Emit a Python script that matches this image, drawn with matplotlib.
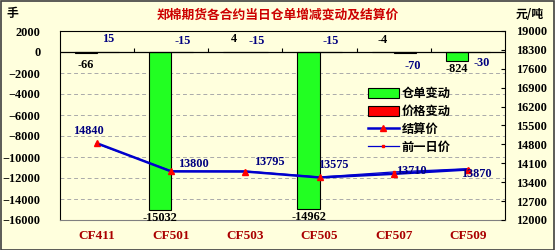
import numpy as np
import matplotlib
matplotlib.use('Agg')
import matplotlib.pyplot as plt
from matplotlib.patches import Rectangle
from matplotlib.lines import Line2D

# contract data
contracts = ['CF411', 'CF501', 'CF503', 'CF505', 'CF507', 'CF509']
warrant_change = [-66, -15032, 4, -14962, -4, -824]
price_change = [15, -15, -15, -15, -70, -30]
settle_price = [14840, 13800, 13795, 13575, 13710, 13870]
prev_price = [14825, 13815, 13810, 13590, 13780, 13900]

# label offsets (points) for the data labels
warrant_offsets = [(0, -9), (0, -6), (0, 9), (0, -6), (0, 9), (0, -6)]
price_offsets = [(0, 9), (0, 8), (0, 8), (0, 8), (6, -10), (2, -8)]
settle_offsets = [(-6, 9), (16, 5), (17, 7), (10, 9), (13, 2), (6, -3)]

cjk = ['Noto Sans CJK SC', 'DejaVu Sans']
num_font = 'Liberation Serif'
bg = '#FFFFDD'

fig = plt.figure(figsize=(5.55, 2.5), dpi=100, facecolor=bg)
ax = fig.add_axes([0.108, 0.12, 0.802, 0.756], facecolor=bg)
ax2 = ax.twinx()

x = np.arange(len(contracts))
w = 0.3

ax.bar(x - w / 2, warrant_change, w, color='#22FF22', edgecolor='black', linewidth=0.8, label='仓单变动', zorder=2)
ax.bar(x + w / 2, price_change, w, color='#FF0000', edgecolor='black', linewidth=0.8, label='价格变动', zorder=2)

ax.set_xlim(-0.5, len(contracts) - 0.5)
ax.set_ylim(-16000, 2000)
ax.set_yticks(np.arange(-16000, 2001, 2000))
ax.yaxis.grid(True, linestyle=(0, (4, 3)), color='#AAAAAA', linewidth=0.7)
ax.set_axisbelow(True)
ax.axhline(0, color='black', linewidth=0.9, zorder=3)
ax.vlines(np.arange(0.5, len(contracts) - 0.5), 0, 380, color='black', linewidth=0.8, zorder=3)

ax.set_xticks(x)
ax.set_xticklabels(contracts, fontfamily=num_font, fontweight='bold', fontsize=9.5, color='#AA0000')
ax.tick_params(axis='x', length=0, pad=7)
ax.tick_params(axis='y', length=0, pad=14)
for lab in ax.get_yticklabels():
    lab.set_fontfamily(num_font)
    lab.set_fontweight('bold')
    lab.set_fontsize(8.8)

for s in ['left', 'top', 'right']:
    ax.spines[s].set_color('black')
ax.spines['bottom'].set_color('#808080')

# prices on the right axis
ax2.plot(x, settle_price, color='#0000CC', linewidth=1.8, marker='^', markersize=5,
         markerfacecolor='red', markeredgecolor='red', label='结算价', zorder=4)
ax2.plot(x, prev_price, color='#0000CC', linewidth=0.9, marker='s', markersize=2,
         markerfacecolor='red', markeredgecolor='red', label='前一日价', zorder=4)
ax2.set_ylim(12000, 19000)
ax2.set_yticks(np.arange(12000, 19001, 700))
ax2.tick_params(axis='y', direction='in', length=3, pad=8)
for lab in ax2.get_yticklabels():
    lab.set_fontfamily(num_font)
    lab.set_fontweight('bold')
    lab.set_fontsize(8.8)
for s in ax2.spines.values():
    s.set_visible(False)

# data labels
for i in range(len(contracts)):
    ax.annotate(str(warrant_change[i]), (x[i] - w / 2, warrant_change[i] if warrant_change[i] < 0 else 0),
                xytext=warrant_offsets[i], textcoords='offset points', ha='center', va='center',
                fontfamily=num_font, fontweight='bold', fontsize=8.8, color='black')
    ax.annotate(str(price_change[i]), (x[i] + w / 2, 0),
                xytext=price_offsets[i], textcoords='offset points', ha='center', va='center',
                fontfamily=num_font, fontweight='bold', fontsize=8.8, color='#000080')
    ax2.annotate(str(settle_price[i]), (x[i], settle_price[i]),
                 xytext=settle_offsets[i], textcoords='offset points', ha='center', va='center',
                 fontfamily=num_font, fontweight='bold', fontsize=8.8, color='#000080', zorder=5)

handles = [Rectangle((0, 0), 1, 1, facecolor='#22FF22', edgecolor='black', linewidth=0.8),
           Rectangle((0, 0), 1, 1, facecolor='#FF0000', edgecolor='black', linewidth=0.8),
           Line2D([], [], color='#0000CC', linewidth=1.8, marker='^', markersize=4,
                  markerfacecolor='red', markeredgecolor='red'),
           Line2D([], [], color='#0000CC', linewidth=0.9, marker='s', markersize=2,
                  markerfacecolor='red', markeredgecolor='red')]
labels = ['仓单变动', '价格变动', '结算价', '前一日价']
leg = ax2.legend(handles, labels, loc='upper left', bbox_to_anchor=(0.68, 0.73), frameon=False,
                 prop={'family': cjk, 'weight': 'bold', 'size': 8.8}, handlelength=2.6,
                 handleheight=0.9, handletextpad=0.2, labelspacing=0.4, borderaxespad=0)

fig.text(0.5, 0.94, '郑棉期货各合约当日仓单增减变动及结算价', ha='center', va='center',
         fontfamily=cjk, fontweight='bold', fontsize=9.2, color='#CC0000')
fig.text(0.023, 0.945, '手', ha='center', va='center', fontfamily=cjk, fontweight='bold', fontsize=8.5)
fig.text(0.955, 0.94, '元/吨', ha='center', va='center', fontfamily=cjk, fontweight='bold', fontsize=8.5)

fig.patches.append(Rectangle((0.001, 0.002), 0.997, 0.995, transform=fig.transFigure,
                             fill=False, edgecolor='#404040', linewidth=1.2))

fig.savefig('out.png', dpi=100, facecolor=bg)
